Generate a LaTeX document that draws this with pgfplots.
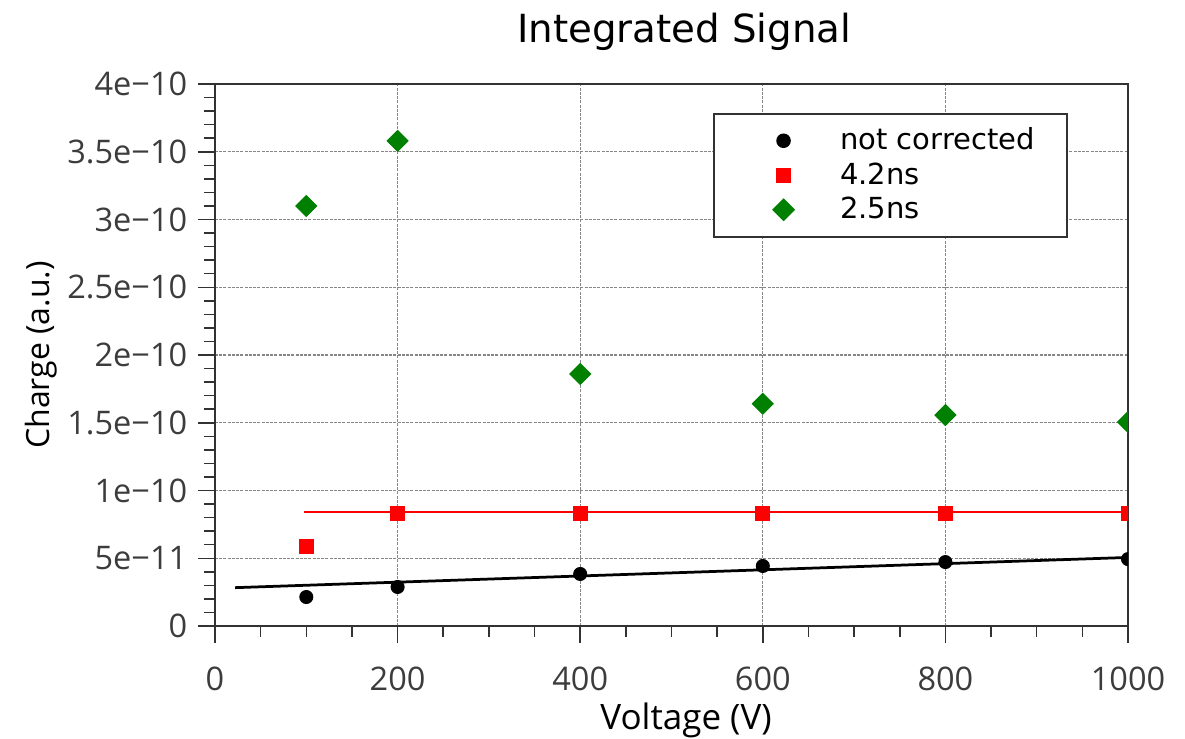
\documentclass[border=0pt]{standalone}
\usepackage{fontspec}
\setmainfont{Open Sans}
\newfontfamily\dejavu{DejaVu Sans}
\usepackage{pgfplots}
\pgfplotsset{compat=1.18}
\definecolor{ticktext}{RGB}{60,60,60}
\definecolor{axisline}{RGB}{50,50,50}
\definecolor{gridgray}{RGB}{135,135,135}
\definecolor{darkgreen}{RGB}{0,128,0}

\begin{document}
\begin{tikzpicture}
\useasboundingbox (-86pt,-44.8pt) rectangle (388pt,250.4pt);
\begin{axis}[
  scale only axis,
  width=365.2pt, height=216.8pt,
  xmin=0, xmax=1000, ymin=0, ymax=4e-10,
  scaled y ticks=false,
  xtick={0,200,400,600,800,1000},
  xticklabels={0,200,400,600,800,1000},
  ytick={0,5e-11,1e-10,1.5e-10,2e-10,2.5e-10,3e-10,3.5e-10,4e-10},
  yticklabels={0,5e−11,1e−10,1.5e−10,2e−10,2.5e−10,3e−10,3.5e−10,4e−10},
  minor x tick num=3,
  minor y tick num=4,
  xtick pos=left, ytick pos=left,
  tick align=outside,
  major tick length=6.8pt, minor tick length=4.4pt,
  every tick/.style={axisline, line width=0.6pt},
  axis line style={axisline, line width=0.8pt},
  grid=major,
  major grid style={gridgray, line width=0.5pt, dash pattern=on 1.2pt off 0.5pt},
  every tick label/.append style={font=\fontsize{13}{15}\selectfont, text=ticktext},
  yticklabel style={anchor=east, xshift=-0.8pt},
  xticklabel style={anchor=base, yshift=-18.8pt},
  title={Integrated Signal},
  title style={font=\dejavu\fontsize{15.5}{18}\selectfont, at={(rel axis cs:0.514,1.0775)}, anchor=base, yshift=-6pt},
  xlabel={Voltage (V)},
  xlabel style={font=\fontsize{14}{16}\selectfont, at={(rel axis cs:0.516,0)}, yshift=-41.2pt, anchor=base},
  ylabel={Charge (a.u.)},
  ylabel style={font=\fontsize{12.8}{15}\selectfont, at={(rel axis cs:0,0.5)}, yshift=66pt, anchor=base},
  clip marker paths=true,
  legend cell align=left,
  legend style={
    at={(rel axis cs:0.5455,0.9465)}, anchor=north west,
    draw=axisline, line width=0.6pt,
    font=\dejavu\fontsize{11.6}{13.8}\selectfont,
    inner xsep=12pt, inner ysep=3.9pt,
    nodes={inner xsep=0.8pt, inner ysep=0pt, text height=10.5pt, text depth=3.3pt},
  },
  legend image code/.code={
    \path (-15.6pt,0pt) (21.6pt,0pt);
    \draw[#1] plot coordinates {(0pt,0pt)};
  },
]
% fitted trend lines
\addplot[black, line width=1.1pt, forget plot] coordinates {(22,2.83e-11) (1000,5.06e-11)};
\addplot[red, line width=1.1pt, forget plot] coordinates {(97,8.41e-11) (1000,8.41e-11)};

% measured points
\addplot[only marks, mark=*, mark size=2.6pt, black] coordinates {
  (100,2.14e-11) (200,2.88e-11) (400,3.84e-11) (600,4.43e-11) (800,4.72e-11) (1000,4.94e-11)
};
\addlegendentry{not corrected}
\addplot[only marks, mark=square*, mark size=2.8pt, red] coordinates {
  (100,5.90e-11) (200,8.34e-11) (400,8.34e-11) (600,8.34e-11) (800,8.34e-11) (1000,8.34e-11)
};
\addlegendentry{4.2ns}
\addplot[only marks, mark=square*, mark size=2.95pt, mark options={rotate=45}, darkgreen] coordinates {
  (100,3.10e-10) (200,3.58e-10) (400,1.86e-10) (600,1.64e-10) (800,1.557e-10) (1000,1.505e-10)
};
\addlegendentry{2.5ns}
\end{axis}
\end{tikzpicture}
\end{document}
